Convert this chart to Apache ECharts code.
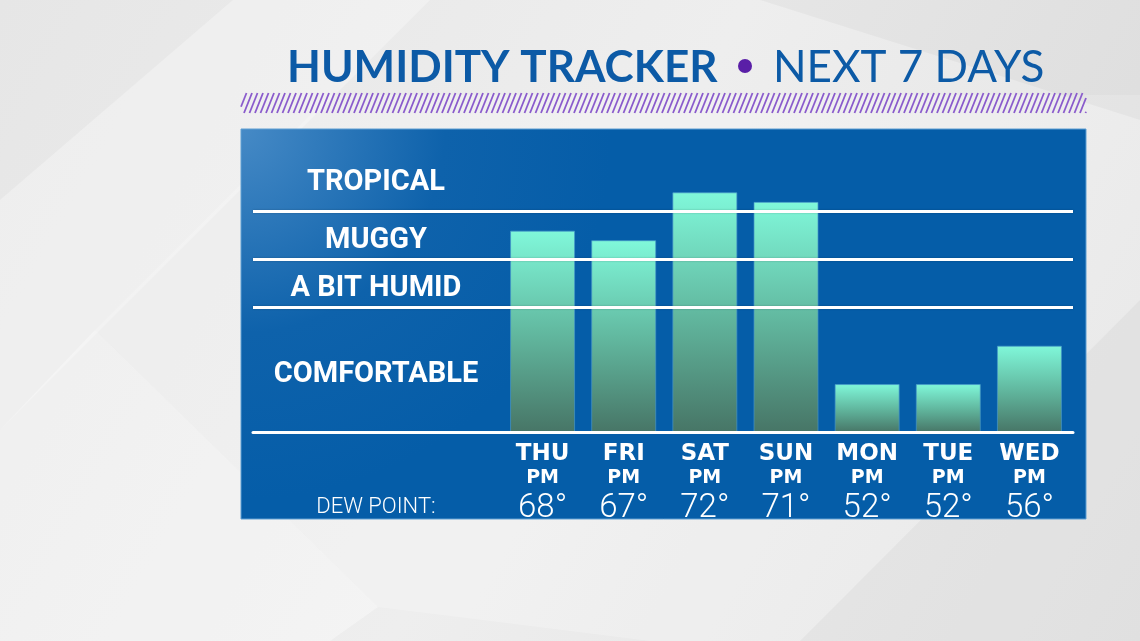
<!DOCTYPE html>
<html><head><meta charset="utf-8">
<script src="https://cdn.jsdelivr.net/npm/echarts@6/dist/echarts.min.js"></script>
<style>html,body{margin:0;padding:0;background:#eaeaea;}#c{width:1140px;height:641px;}</style>
</head><body><div id="c"></div>
<script>
// ---- data ----
const days = ['THU', 'FRI', 'SAT', 'SUN', 'MON', 'TUE', 'WED'];
const periods = ['PM', 'PM', 'PM', 'PM', 'PM', 'PM', 'PM'];
const dewPoints = [68, 67, 72, 71, 52, 52, 56];
const zoneNames = ['COMFORTABLE', 'A BIT HUMID', 'MUGGY', 'TROPICAL'];
const zoneBounds = [47, 60, 65, 70, 77];
const thresholds = [60, 65, 70];
const titleMain = 'HUMIDITY TRACKER';
const titleSub = 'NEXT 7 DAYS';
const rowLabel = 'DEW POINT:';
const yMin = 47, yMax = 78.6;

// ---- chart ----
const chart = echarts.init(document.getElementById('c'), null, { renderer: 'canvas' });
const G = echarts.graphic;

// decorative hatch band
const hatch = [];
for (let x = 233; x < 1086; x += 5.5) {
  let x1 = x, y1 = 113, x2 = x + 8, y2 = 93;
  if (x1 < 241) { const t = (241 - x1) / 8; x1 = 241; y1 = 113 - 20 * t; }
  if (x2 > 1086) { const t = (x2 - 1086) / 8; x2 = 1086; y2 = 93 + 20 * t; }
  if (x1 >= x2) continue;
  hatch.push({ type: 'line', silent: true, shape: { x1, y1, x2, y2 }, style: { stroke: '#8a5bcc', lineWidth: 1.8 } });
}

const bgShapes = [
  { type: 'polygon', silent: true, shape: { points: [[0, 200], [233, 0], [430, 0], [0, 430]] }, style: { fill: 'rgba(255,255,255,0.30)' } },
  { type: 'polygon', silent: true, shape: { points: [[95, 330], [330, 95], [1140, 95], [1140, 641], [650, 641], [378, 607]] }, style: { fill: 'rgba(255,255,255,0.22)' } },
  { type: 'polygon', silent: true, shape: { points: [[0, 430], [95, 330], [378, 607], [330, 641], [0, 641]] }, style: { fill: 'rgba(255,255,255,0.35)' } },
  { type: 'polygon', silent: true, shape: { points: [[800, 641], [1140, 300], [1140, 641]] }, style: { fill: 'rgba(0,0,0,0.03)' } },
  { type: 'polygon', silent: true, shape: { points: [[760, 0], [1140, 0], [1140, 120]] }, style: { fill: 'rgba(0,0,0,0.03)' } }
];

const option = {
  animation: false,
  backgroundColor: new G.LinearGradient(0, 0, 1, 1, [
    { offset: 0, color: '#e6e6e6' }, { offset: 0.5, color: '#eeeeee' }, { offset: 1, color: '#e2e2e2' }
  ]),
  graphic: [
    ...bgShapes,
    {
      type: 'text', silent: true, left: 287, top: 46,
      style: { text: titleMain, fill: '#0c5aa6', font: 'bold 44px Lato', textVerticalAlign: 'top' }
    },
    { type: 'circle', silent: true, shape: { cx: 745, cy: 66, r: 7 }, style: { fill: '#5a1fa7' } },
    {
      type: 'text', silent: true, left: 773, top: 46,
      style: { text: titleSub, fill: '#0c5aa6', font: '44px Lato', textVerticalAlign: 'top' }
    },
    ...hatch,
    {
      type: 'rect', silent: true, shape: { x: 241, y: 129, width: 845, height: 390 },
      style: {
        fill: new G.RadialGradient(0, 0, 0.95, [
          { offset: 0, color: '#468ac6' }, { offset: 0.55, color: '#0e62ab' }, { offset: 1, color: '#055da8' }
        ]),
        stroke: '#5f9fd3', lineWidth: 1
      }
    },
    {
      type: 'text', silent: true, x: 376, y: 507,
      style: { text: rowLabel, fill: '#ffffff', font: '300 22px Roboto', align: 'center', verticalAlign: 'middle' }
    }
  ],
  grid: [
    { left: 502, right: 70, top: 129, bottom: 209 },
    { left: 253, right: 67, top: 129, bottom: 209 }
  ],
  xAxis: [
    {
      type: 'category', gridIndex: 0, data: days,
      axisLine: { show: false }, axisTick: { show: false }, splitLine: { show: false },
      axisLabel: {
        margin: 10, color: '#fff',
        formatter: (v, i) => '{d|' + v + '}\n{p|' + periods[i] + '}\n{v|' + dewPoints[i] + '°}',
        rich: {
          d: { fontFamily: 'DejaVu Sans', fontWeight: 'bold', fontSize: 23, lineHeight: 25, color: '#fff' },
          p: { fontFamily: 'DejaVu Sans', fontWeight: 'bold', fontSize: 19, lineHeight: 23, color: '#fff' },
          v: { fontFamily: 'Roboto', fontWeight: 300, fontSize: 33, lineHeight: 37, color: '#fff' }
        }
      }
    },
    {
      type: 'value', gridIndex: 1, min: 0, max: 1, z: 10,
      axisLine: { show: true, onZero: false, lineStyle: { color: '#ffffff', width: 3 } },
      axisTick: { show: false }, axisLabel: { show: false }, splitLine: { show: false }
    }
  ],
  yAxis: [
    { type: 'value', gridIndex: 0, min: yMin, max: yMax, show: false },
    { type: 'value', gridIndex: 1, min: yMin, max: yMax, show: false }
  ],
  series: [
    {
      type: 'bar', xAxisIndex: 0, yAxisIndex: 0, data: dewPoints, barWidth: 65, z: 2,
      itemStyle: {
        color: new G.LinearGradient(0, 0, 0, 1, [
          { offset: 0, color: '#80f8da' }, { offset: 0.5, color: '#62b9a0' }, { offset: 1, color: '#477566' }
        ]),
        borderColor: 'rgba(70,150,200,0.7)', borderWidth: 1
      },
      silent: true
    },
    {
      type: 'line', xAxisIndex: 1, yAxisIndex: 1, data: [], z: 10, silent: true,
      markLine: {
        silent: true, symbol: ['none', 'none'],
        label: { show: false },
        lineStyle: { color: '#ffffff', width: 3, type: 'solid', shadowColor: 'rgba(0,0,0,0.25)', shadowBlur: 2 },
        data: thresholds.map(v => ({ yAxis: v }))
      },
      markArea: {
        silent: true,
        itemStyle: { color: 'rgba(0,0,0,0)' },
        label: { show: true, position: 'inside', offset: [0, 5], color: '#fff', fontFamily: 'Roboto', fontWeight: 'bold', fontSize: 29 },
        data: zoneNames.map((n, i) => [
          { name: n, xAxis: 0, yAxis: zoneBounds[i] },
          { xAxis: 0.3, yAxis: zoneBounds[i + 1] }
        ])
      }
    }
  ]
};
chart.setOption(option);
</script>
</body></html>
